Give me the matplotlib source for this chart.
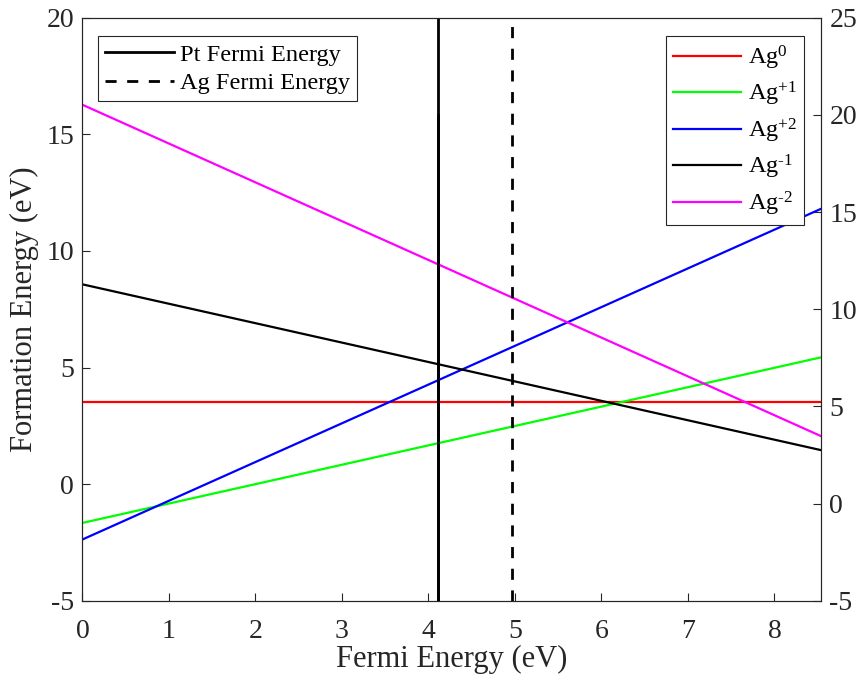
import matplotlib
matplotlib.use('Agg')
import matplotlib.pyplot as plt

plt.rcParams['font.family'] = 'Liberation Serif'
plt.rcParams['mathtext.fontset'] = 'custom'
plt.rcParams['mathtext.rm'] = 'Liberation Serif'
plt.rcParams['mathtext.it'] = 'Liberation Serif:italic'
plt.rcParams['axes.unicode_minus'] = False

# fermi energy range (eV)
fermi = [0.0, 8.54]

# formation energies at the two ends of the range (eV)
ag0 = [3.51, 3.51]
ag_p1 = [-1.66, 5.44]
ag_p2 = [-2.37, 11.81]
ag_m1 = [8.57, 1.46]
ag_m2 = [16.27, 2.06]

pt_fermi = 4.11
ag_fermi = 4.97

labels = [r'Ag$^{0}$', r'Ag$^{+1}$', r'Ag$^{+2}$', r'Ag$^{\text{-}1}$', r'Ag$^{\text{-}2}$']
colors = ['#ff0000', '#00ff00', '#0000ff', '#000000', '#ff00ff']

fig = plt.figure(figsize=(8.61, 6.82), dpi=100)
ax = fig.add_axes([0.0957, 0.119, 0.858, 0.855])
ax2 = ax.twinx()

axc = '#262626'

lines = []
for y, c, lab in zip([ag0, ag_p1, ag_p2, ag_m1, ag_m2], colors, labels):
    l, = ax.plot(fermi, y, color=c, linewidth=1.6, label=lab)
    lines.append(l)

pt_line, = ax.plot([pt_fermi, pt_fermi], [-5, 20], color='k', linewidth=2.0, label='Pt Fermi Energy')
ag_line, = ax.plot([ag_fermi, ag_fermi], [-5, 20], color='k', linewidth=2.0, linestyle=(0, (4.0, 3.8)),
                   label='Ag Fermi Energy')
ax2.plot([pt_fermi, pt_fermi], [-5, 20], color='k', linewidth=2.0)

ax.set_xlim(0, 8.54)
ax.set_ylim(-5, 20)
ax2.set_ylim(-5, 25)
ax.set_xticks(range(0, 9))
ax.set_yticks(range(-5, 21, 5))
ax2.set_yticks(range(-5, 26, 5))

ax.set_xlabel('Fermi Energy (eV)', fontsize=22, color=axc, labelpad=1)
ax.set_ylabel('Formation Energy (eV)', fontsize=22, color=axc, labelpad=5)

for a in (ax, ax2):
    a.tick_params(direction='in', length=6, width=0.8, labelsize=20, colors=axc, top=False)
    for s in a.spines.values():
        s.set_color(axc)
        s.set_linewidth(0.8)
ax.tick_params(axis='x', pad=13)
ax.tick_params(axis='y', pad=6)
ax2.tick_params(axis='y', pad=6)

leg1 = ax.legend(handles=[pt_line, ag_line], loc='upper left', bbox_to_anchor=(0.021, 0.968),
                 fontsize=17.6, frameon=True, fancybox=False, edgecolor=axc, framealpha=1,
                 handlelength=2.8, handletextpad=0.25, borderpad=0.3, labelspacing=0.25,
                 borderaxespad=0)
leg1.get_frame().set_linewidth(0.8)
ax.add_artist(leg1)

leg2 = ax.legend(handles=lines, loc='upper right', bbox_to_anchor=(0.977, 0.968),
                 fontsize=17.6, frameon=True, fancybox=False, edgecolor=axc, framealpha=1,
                 handlelength=2.8, handletextpad=0.25, borderpad=0.3, labelspacing=0.34,
                 borderaxespad=0)
leg2.get_frame().set_linewidth(0.8)

ax2.set_zorder(0)
ax.set_zorder(1)
ax.patch.set_visible(False)

fig.savefig('out.png', dpi=100)
